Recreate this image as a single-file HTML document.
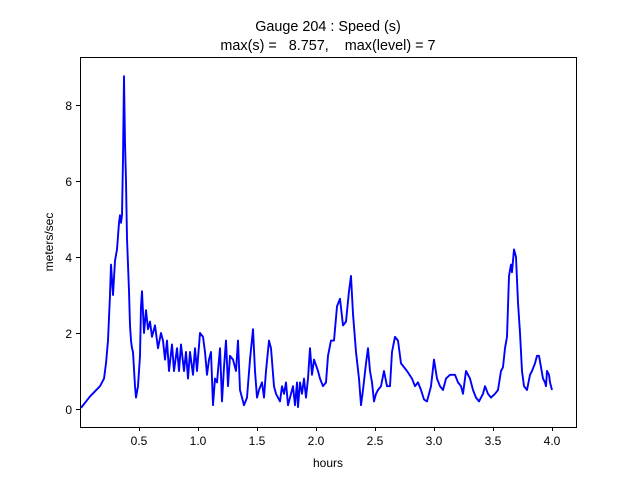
<!DOCTYPE html>
<html><head><meta charset="utf-8"><style>body{margin:0;background:#fff}svg{display:block}</style></head><body>
<svg width="640" height="480" xmlns="http://www.w3.org/2000/svg" font-family="Liberation Sans, DejaVu Sans, sans-serif" font-size="12">
<rect width="640" height="480" fill="#fff"/>
<g transform="translate(0,409) scale(1,-38)">
<polyline fill="none" stroke="#0000ff" stroke-width="1.9" vector-effect="non-scaling-stroke" stroke-linejoin="round" points="81,0.03 90,0.33 100,0.6 104,0.8 106,1.2 108,1.8 110,3.0 111,3.8 113,3.0 115,3.9 117,4.2 119,4.9 120,5.1 121,4.9 122,5.1 123,6.6 124,8.757 125,7.0 126,6.0 127,4.5 128,3.8 129,3.1 130,2.2 131,1.8 132,1.6 133,1.5 135,0.6 136,0.3 138,0.6 140,1.4 141,2.7 142,3.1 144,2.0 146,2.6 148,2.1 150,2.3 152,1.9 155,2.2 158,1.6 161,2.0 163,1.8 165,1.3 167,1.8 169,1.0 172,1.7 174,1.0 177,1.6 179,1.0 181,1.7 184,1.0 186,1.5 188,0.8 190,1.5 193,0.9 195,1.6 197,1.0 200,2.0 203,1.9 205,1.5 207,0.9 209,1.3 211,1.5 213,0.1 215,0.8 217,0.7 220,1.6 222,0.2 224,1.1 226,1.8 228,0.6 230,1.4 233,1.3 236,1.0 238,1.8 240,0.5 244,0.1 247,0.3 250,1.3 253,2.1 255,1.0 257,0.3 259,0.5 262,0.7 264,0.3 266,1.0 269,1.8 271,1.6 274,0.6 276,0.4 280,0.2 282,0.6 284,0.4 286,0.7 288,0.1 290,0.3 293,0.6 295,0.1 297,0.7 298,0.05 300,0.7 302,0.4 304,0.8 306,0.3 308,0.8 310,1.6 312,0.9 314,1.3 318,1.0 320,0.8 323,0.6 326,0.7 328,1.4 331,1.8 334,1.8 337,2.7 340,2.9 343,2.2 346,2.3 349,3.1 351,3.5 353,2.5 356,1.5 359,0.8 361,0.1 363,0.5 366,1.2 368,1.6 370,1.0 372,0.7 374,0.2 376,0.4 378,0.5 381,0.6 384,1.0 387,0.6 390,0.6 392,1.5 395,1.9 398,1.8 401,1.2 407,1.0 412,0.8 415,0.6 418,0.7 421,0.5 424,0.25 427,0.2 431,0.6 434,1.3 437,0.8 440,0.6 443,0.5 446,0.8 450,0.9 455,0.9 458,0.7 461,0.6 463,0.4 466,1.0 470,0.8 473,0.5 476,0.3 479,0.2 483,0.4 485,0.6 488,0.4 491,0.3 495,0.4 498,0.5 501,1.0 503,1.1 505,1.6 507,1.9 509,3.5 511,3.8 512,3.6 514,4.2 516,4.0 518,2.8 520,2.0 522,1.0 524,0.6 527,0.5 530,0.9 532,1.0 535,1.2 537,1.4 539,1.4 541,1.1 543,0.8 545,0.7 546,0.6 547,1.0 549,0.9 550,0.7 552,0.5"/>
</g>
<rect x="80.5" y="57.5" width="496" height="370" fill="none" stroke="#000" stroke-width="1"/>
<g stroke="#000" stroke-width="1">
<line x1="139.5" y1="427" x2="139.5" y2="431"/><line x1="198.5" y1="427" x2="198.5" y2="431"/><line x1="257.5" y1="427" x2="257.5" y2="431"/><line x1="316.5" y1="427" x2="316.5" y2="431"/><line x1="375.5" y1="427" x2="375.5" y2="431"/><line x1="434.5" y1="427" x2="434.5" y2="431"/><line x1="493.5" y1="427" x2="493.5" y2="431"/><line x1="552.5" y1="427" x2="552.5" y2="431"/>
<line x1="76" y1="409.5" x2="80" y2="409.5"/><line x1="76" y1="333.5" x2="80" y2="333.5"/><line x1="76" y1="257.5" x2="80" y2="257.5"/><line x1="76" y1="181.5" x2="80" y2="181.5"/><line x1="76" y1="105.5" x2="80" y2="105.5"/>
</g>
<g text-anchor="middle">
<text x="139" y="445">0.5</text><text x="198" y="445">1.0</text><text x="257" y="445">1.5</text><text x="316" y="445">2.0</text><text x="375" y="445">2.5</text><text x="434" y="445">3.0</text><text x="493" y="445">3.5</text><text x="552" y="445">4.0</text>
<text x="328" y="467">hours</text>
<text x="328" y="31" font-size="14.4">Gauge 204 : Speed (s)</text>
<text x="328" y="50" font-size="14.4" xml:space="preserve">max(s) =   8.757,    max(level) = 7</text>
</g>
<g text-anchor="end">
<text x="72" y="414">0</text><text x="72" y="338">2</text><text x="72" y="262">4</text><text x="72" y="186">6</text><text x="72" y="110">8</text>
</g>
<text transform="translate(53,242) rotate(-90)" text-anchor="middle">meters/sec</text>
</svg>
</body></html>
